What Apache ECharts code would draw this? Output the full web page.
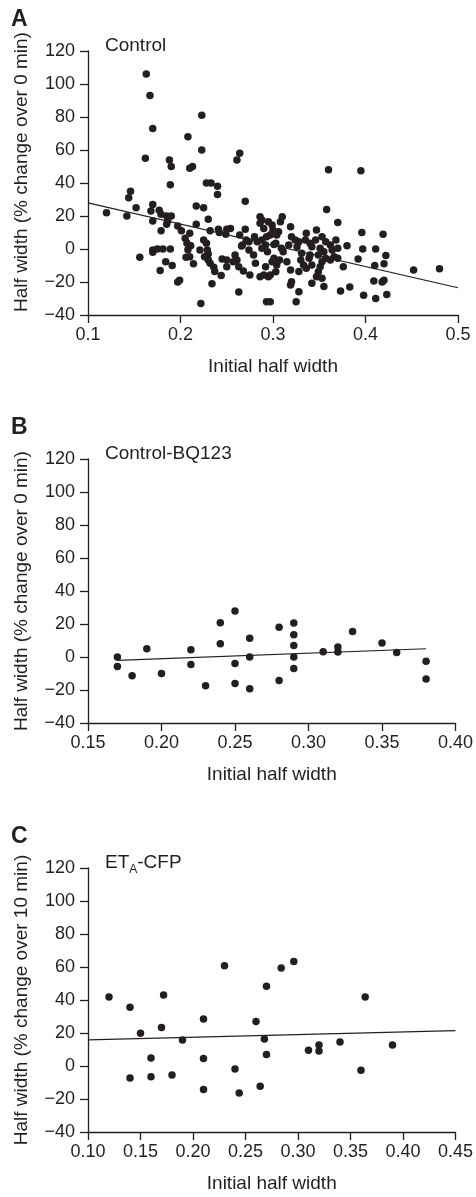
<!DOCTYPE html>
<html>
<head>
<meta charset="utf-8">
<script src="https://cdn.jsdelivr.net/npm/echarts@6/dist/echarts.min.js"></script>
<style>
html,body{margin:0;padding:0;background:#fff;}
#chart{width:476px;height:1197px;}
</style>
</head>
<body>
<div id="chart"></div>
<script>
// ---- Data ----
var panelLetters = ['A', 'B', 'C'];
var panelTitles = ['Control', 'Control-BQ123', '{n|ET}{s|A}{n|-CFP}'];
var yAxisNames = ['Half width (% change over 0 min)', 'Half width (% change over 0 min)', 'Half width (% change over 10 min)'];
var xAxisName = 'Initial half width';

var yTicks = { min: -40, max: 120, interval: 20 };
var xRanges = [
  { min: 0.1, max: 0.5, interval: 0.1, digits: 1 },
  { min: 0.15, max: 0.40, interval: 0.05, digits: 2 },
  { min: 0.10, max: 0.45, interval: 0.05, digits: 2 }
];

// Panel A: Control
var controlPoints = [
  [0.120,22],[0.142,20],[0.144,31],[0.146,35],[0.152,25],[0.156,-5],
  [0.162,55],[0.163,106],[0.167,93],[0.170,73],
  [0.170,27],[0.168,23],[0.177,23.5],[0.179,21],[0.170,17],
  [0.170,-0.6],[0.175,0],[0.181,0],[0.189,0],[0.170,-2],
  [0.179,11],[0.185,20],[0.190,20],[0.186,17],[0.185,15],
  [0.188,54],[0.190,50],[0.189,39],
  [0.184,-7.7],[0.191,-10],[0.178,-13],
  [0.197,14],[0.201,11],[0.197,-20],[0.199,-19],
  [0.208,68],[0.210,49],[0.213,50],
  [0.205,6.5],[0.207,3.5],[0.211,2],[0.210,9.5],
  [0.208,-0.4],[0.206,-5],[0.210,-4.7],[0.214,-9],
  [0.217,26],[0.225,25],[0.230,18],[0.217,15],
  [0.223,81],[0.223,60],
  [0.228,40],[0.233,40],[0.240,38],[0.240,33],
  [0.225,5.5],[0.228,3.5],[0.221,-0.6],[0.229,-0.6],[0.230,-3],[0.226,-4.7],
  [0.232,11],[0.241,12],[0.250,12],[0.242,10],[0.249,9],
  [0.230,-6.7],[0.232,-8.7],[0.236,-11],[0.237,-13.7],[0.244,-16],
  [0.234,-21],[0.222,-33],
  [0.245,-6],[0.250,-6.7],[0.250,-10.7],
  [0.264,58],[0.261,54],[0.270,29],
  [0.254,12.5],[0.270,12],[0.264,8.5],
  [0.259,-3.6],[0.261,-6.7],[0.257,-7.7],
  [0.263,-10.7],[0.268,-13.3],[0.275,-15.8],[0.263,-26],
  [0.267,2.4],[0.274,4.4],[0.274,-0.6],[0.271,5.5],[0.266,1.8],
  [0.280,7.5],[0.283,4.4],[0.279,-3.6],[0.281,-8.7],
  [0.286,19.6],[0.286,15.6],[0.290,12.5],[0.288,17.6],
  [0.295,16.5],[0.299,14.5],[0.300,11.5],[0.297,8.5],[0.293,7.5],
  [0.310,19.6],[0.308,16.5],[0.306,10.5],[0.304,8.5],[0.301,2.8],[0.292,2.4],[0.288,0.4],
  [0.288,5.5],[0.294,-1.6],[0.303,3.5],[0.307,-6.7],
  [0.311,-1.6],[0.309,0.4],
  [0.319,13.5],[0.320,7.5],[0.324,5.5],[0.328,4.4],[0.326,1.4],[0.317,2.4],
  [0.301,-5.6],[0.299,-7.7],[0.304,-9.7],[0.303,-13.8],[0.297,-15.8],[0.295,-16.8],[0.292,-10.7],[0.290,-15.8],[0.286,-16.8],
  [0.315,-7.7],[0.319,-12.7],[0.320,-19.8],[0.319,-21.8],[0.328,-13.7],[0.328,-25.9],[0.325,-31.9],
  [0.293,-32],[0.297,-32],
  [0.331,-2.6],[0.330,-6.7],[0.333,-9.7],[0.339,-5.6],[0.340,-3.6],[0.342,-9.7],[0.336,-11.7],
  [0.336,9.5],[0.335,5.5],[0.340,3.5],[0.346,5.5],[0.347,11.5],[0.342,1.4],
  [0.353,7.5],[0.357,4.4],[0.351,0.4],[0.355,-1.6],[0.349,-3.6],[0.357,-5.6],[0.353,-7.7],
  [0.362,2.4],[0.364,-0.6],[0.368,5.5],[0.370,0.4],[0.366,-4.7],[0.362,-6.7],[0.370,-5.6],
  [0.351,-10.7],[0.349,-13.8],[0.347,-16.8],[0.353,-17.8],[0.355,-22.8],[0.342,-20.8],
  [0.376,-10.7],[0.380,2],[0.373,-25.5],[0.383,-23],[0.392,-6],
  [0.397,0],[0.411,0],[0.422,-4],[0.420,-9],[0.410,-10],
  [0.409,-19.4],[0.418,-20],[0.420,-19],[0.398,-28],[0.411,-30],[0.423,-27.5],
  [0.360,48],[0.395,47.5],[0.358,24],[0.370,16],[0.396,10],[0.419,9],[0.452,-12.7],[0.480,-12]
];
var controlFit = [[0.1,28],[0.5,-23.5]];

// Panel B: Control-BQ123
var bq123Points = [
  [0.17,0],[0.17,-5.7],[0.18,-11.3],[0.19,5],[0.20,-10],
  [0.22,4.4],[0.22,-4.6],[0.23,-17.4],[0.24,20.8],[0.24,8],
  [0.25,27.9],[0.25,-4],[0.25,-16],[0.26,11.3],[0.26,0],[0.26,-19.2],
  [0.28,18],[0.28,-14.3],[0.29,20.6],[0.29,13.5],[0.29,6.9],[0.29,0],[0.29,-6.9],
  [0.31,3.2],[0.32,6],[0.32,3],[0.33,15.4],[0.35,8.5],[0.36,2.8],[0.38,-2.6],[0.38,-13.3]
];
var bq123Fit = [[0.17,-2],[0.38,5]];

// Panel C: ETA-CFP
var etaCfpPoints = [
  [0.12,41.8],[0.14,35.6],[0.15,19.8],[0.14,-7.3],[0.16,4.8],[0.16,-6.5],
  [0.172,43],[0.17,23.4],[0.18,-5.5],[0.19,15.8],[0.21,28.5],[0.21,4.6],[0.21,-14.3],
  [0.23,60.8],[0.24,-1.8],[0.244,-16.4],[0.26,27],[0.268,16.4],[0.264,-12.3],
  [0.27,48.3],[0.27,7],[0.284,59.4],[0.296,63.4],[0.31,9.5],[0.32,12.7],[0.32,9.1],
  [0.34,14.5],[0.36,-2.6],[0.364,41.8],[0.39,12.7]
];
var etaCfpFit = [[0.10,15.8],[0.45,21.4]];

var pointSets = [controlPoints, bq123Points, etaCfpPoints];
var fitSets = [controlFit, bq123Fit, etaCfpFit];

// ---- Chart ----
var INK = '#231f20';
var FONT = '"Liberation Sans", Arial, sans-serif';
var gridTops = [51, 459, 868];
var yNameShift = [22, 0, 0];
var chart = echarts.init(document.getElementById('chart'), null, { renderer: 'canvas' });

var grids = [], xAxes = [], yAxes = [], series = [], titles = [];
for (var i = 0; i < 3; i++) {
  grids.push({ left: 88, top: gridTops[i], width: 370, height: 264, containLabel: false });
  (function (r) {
    xAxes.push({
      type: 'value', gridIndex: i, min: r.min, max: r.max, interval: r.interval,
      name: xAxisName, nameLocation: 'middle', nameGap: 42,
      nameTextStyle: { fontSize: 19, color: INK, fontFamily: FONT },
      axisLine: { show: true, onZero: false, lineStyle: { color: INK, width: 1.3 } },
      axisTick: { show: true, length: 8, inside: false, lineStyle: { color: INK, width: 1.3 } },
      axisLabel: { fontSize: 18, color: INK, fontFamily: FONT, margin: 11,
        formatter: function (v) { return v.toFixed(r.digits); } },
      splitLine: { show: false }
    });
  })(xRanges[i]);
  yAxes.push({
    type: 'value', gridIndex: i, min: yTicks.min, max: yTicks.max, interval: yTicks.interval,
    name: yAxisNames[i], nameLocation: 'middle', nameGap: 57, nameRotate: 90,
    nameTextStyle: { fontSize: 19, color: INK, fontFamily: FONT, padding: [0, 0, 0, yNameShift[i]] },
    axisLine: { show: true, onZero: false, lineStyle: { color: INK, width: 1.3 } },
    axisTick: { show: true, length: 8, inside: false, lineStyle: { color: INK, width: 1.3 } },
    axisLabel: { fontSize: 18, color: INK, fontFamily: FONT, margin: 13,
      formatter: function (v) { return String(v).replace('-', '\u2212'); } },
    splitLine: { show: false }
  });
  series.push({
    type: 'scatter', xAxisIndex: i, yAxisIndex: i, data: pointSets[i],
    symbol: 'circle', symbolSize: 7.5, itemStyle: { color: INK, opacity: 1 }, z: 3
  });
  series.push({
    type: 'line', xAxisIndex: i, yAxisIndex: i, data: fitSets[i],
    showSymbol: false, symbol: 'none', lineStyle: { color: INK, width: 1.2 }, z: 2
  });
  titles.push({
    text: panelLetters[i], left: 11, top: gridTops[i] - 43, padding: 0,
    textStyle: { fontSize: 23, fontWeight: 'bold', color: INK, fontFamily: FONT }
  });
  titles.push({
    text: panelTitles[i], left: 105, top: gridTops[i] - 15, padding: 0,
    textStyle: {
      fontSize: 19, fontWeight: 'normal', color: INK, fontFamily: FONT,
      rich: {
        n: { fontSize: 19, color: INK, fontFamily: FONT, padding: [0, 0, 4, 0], verticalAlign: 'bottom' },
        s: { fontSize: 12, color: INK, fontFamily: FONT, verticalAlign: 'bottom' }
      }
    }
  });
}

chart.setOption({
  animation: false,
  backgroundColor: '#fff',
  title: titles,
  grid: grids,
  xAxis: xAxes,
  yAxis: yAxes,
  series: series
});
</script>
</body>
</html>
